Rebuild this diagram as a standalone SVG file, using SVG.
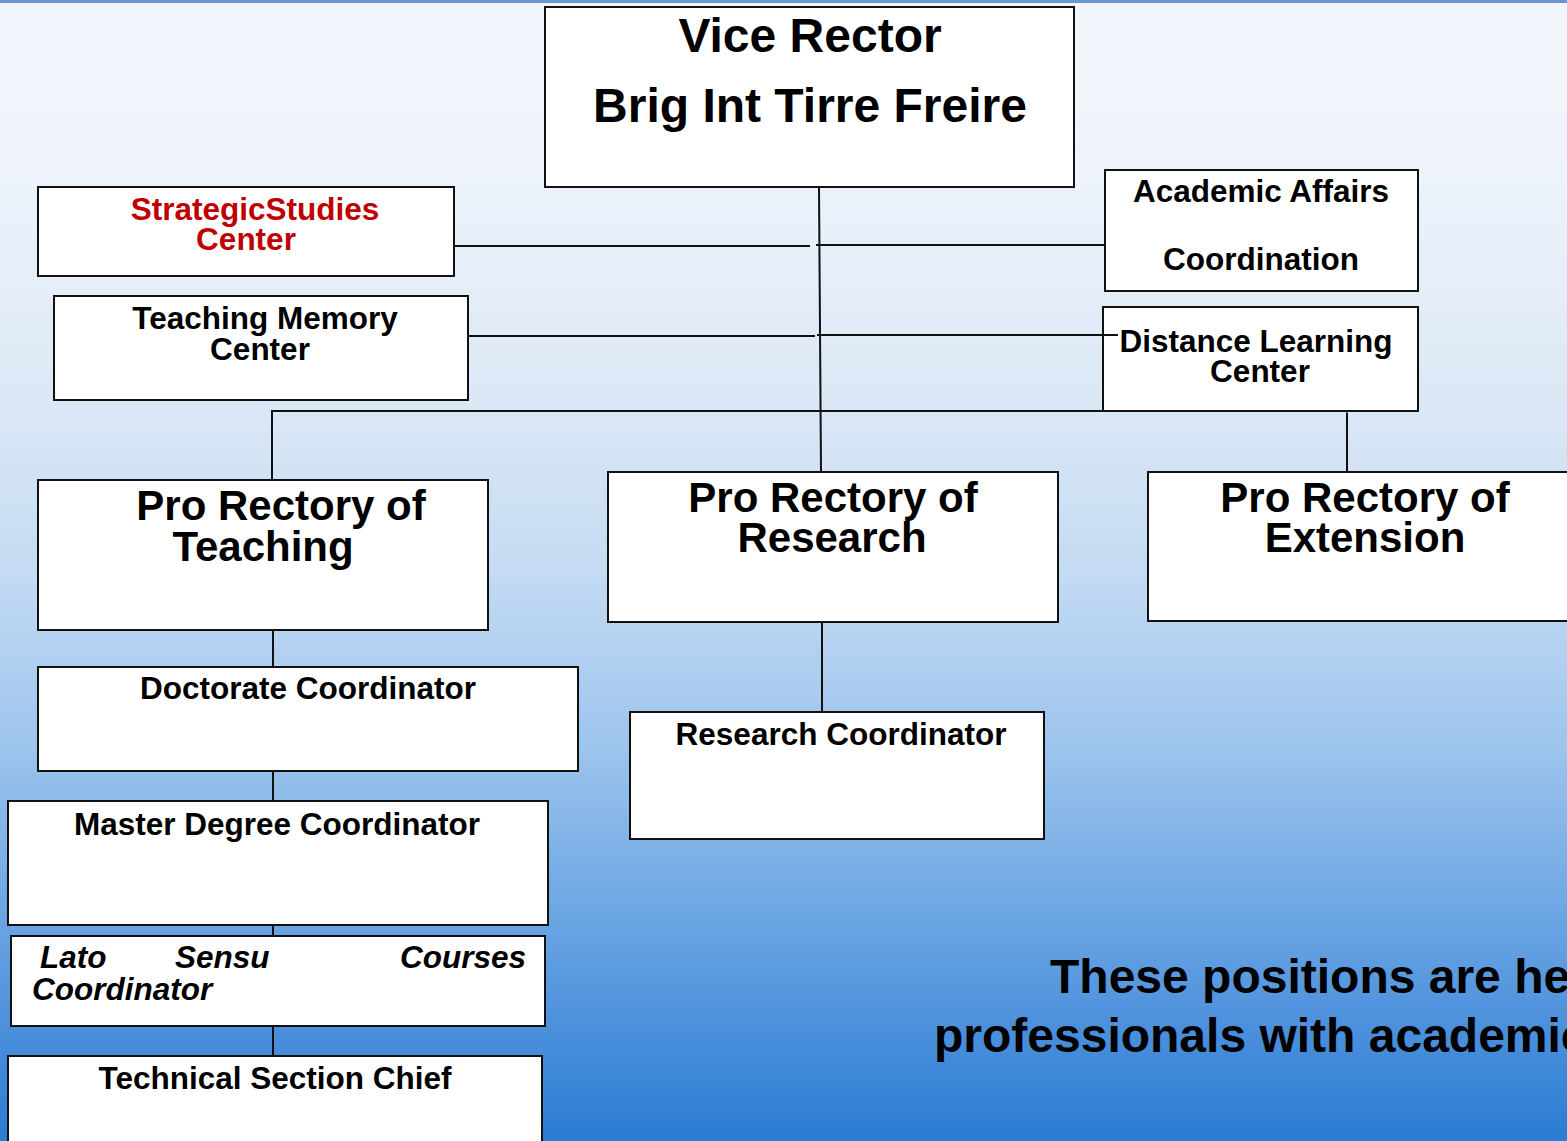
<svg xmlns="http://www.w3.org/2000/svg" width="1567" height="1141" viewBox="0 0 1567 1141">
<defs>
<linearGradient id="bg" x1="0" y1="0" x2="0" y2="1">
<stop offset="0" stop-color="#f2f6fc"/>
<stop offset="0.15" stop-color="#edf3fb"/>
<stop offset="0.35" stop-color="#dce8f6"/>
<stop offset="0.5" stop-color="#c4dbf3"/>
<stop offset="0.65" stop-color="#9ec5ed"/>
<stop offset="0.8" stop-color="#6ca6e3"/>
<stop offset="0.9" stop-color="#4c90dc"/>
<stop offset="1" stop-color="#2a7cd2"/>
</linearGradient>
<style>
.box{fill:#fff;stroke:#111;stroke-width:2}
.t{font-family:"Liberation Sans",Arial,sans-serif;font-weight:bold;fill:#000;text-anchor:middle}
.s{font-size:31.5px}
.l{font-size:42px}
.xl{font-size:48px}
.red{fill:#c00000}
.it{font-style:italic;text-anchor:start}
.c line,.c polyline{stroke:#111;stroke-width:2;fill:none}
</style>
</defs>
<rect x="0" y="0" width="1567" height="1141" fill="url(#bg)"/>
<rect x="0" y="0" width="1567" height="3" fill="#6a98cc"/>

<g id="vice-rector">
<rect class="box" x="545" y="7" width="529" height="180"/>
<text class="t xl" x="810" y="52">Vice Rector</text>
<text class="t xl" x="810" y="122">Brig Int Tirre Freire</text>
</g>

<g id="strategic">
<rect class="box" x="38" y="187" width="416" height="89"/>
<text class="t s red" x="255" y="220">StrategicStudies</text>
<text class="t s red" x="246" y="250">Center</text>
</g>

<g id="teaching-memory">
<rect class="box" x="54" y="296" width="414" height="104"/>
<text class="t s" x="265" y="329">Teaching Memory</text>
<text class="t s" x="260" y="360">Center</text>
</g>

<g id="academic-affairs">
<rect class="box" x="1105" y="170" width="313" height="121"/>
<text class="t s" x="1261" y="202">Academic Affairs</text>
<text class="t s" x="1261" y="270">Coordination</text>
</g>

<g id="distance">
<rect class="box" x="1103" y="307" width="315" height="104" stroke-width="3"/>
<text class="t s" x="1256" y="352">Distance Learning</text>
<text class="t s" x="1260" y="382">Center</text>
</g>

<g id="pro-teaching">
<rect class="box" x="38" y="480" width="450" height="150"/>
<text class="t l" x="281" y="520">Pro Rectory of</text>
<text class="t l" x="263" y="561">Teaching</text>
</g>

<g id="pro-research">
<rect class="box" x="608" y="472" width="450" height="150"/>
<text class="t l" x="833" y="512">Pro Rectory of</text>
<text class="t l" x="832" y="552">Research</text>
</g>

<g id="pro-extension">
<rect class="box" x="1148" y="472" width="430" height="149"/>
<text class="t l" x="1365" y="512">Pro Rectory of</text>
<text class="t l" x="1365" y="552">Extension</text>
</g>

<g id="doctorate">
<rect class="box" x="38" y="667" width="540" height="104"/>
<text class="t s" x="308" y="699">Doctorate Coordinator</text>
</g>

<g id="research-coord">
<rect class="box" x="630" y="712" width="414" height="127"/>
<text class="t s" x="841" y="745">Research Coordinator</text>
</g>

<g id="master">
<rect class="box" x="8" y="801" width="540" height="124"/>
<text class="t s" x="277" y="835">Master Degree Coordinator</text>
</g>

<g id="lato-sensu">
<rect class="box" x="11" y="936" width="534" height="90"/>
<text class="t s it" x="40" y="968">Lato</text>
<text class="t s it" x="175" y="968">Sensu</text>
<text class="t s it" x="526" y="968" style="text-anchor:end">Courses</text>
<text class="t s it" x="32" y="1000">Coordinator</text>
</g>

<g id="technical">
<rect class="box" x="8" y="1056" width="534" height="95"/>
<text class="t s" x="275" y="1089">Technical Section Chief</text>
</g>

<g id="note">
<text class="t xl" x="1050" y="993" style="text-anchor:start">These positions are he</text>
<text class="t xl" x="934" y="1052" style="text-anchor:start">professionals with academic</text>
</g>

<g class="c" id="connectors">
<line x1="819" y1="188" x2="821" y2="471"/>
<line x1="455" y1="246" x2="810" y2="246"/>
<line x1="816" y1="245" x2="1104" y2="245"/>
<line x1="469" y1="336" x2="815" y2="336"/>
<line x1="817" y1="335" x2="1118" y2="335"/>
<polyline points="272,479 272,411 1102,411"/>
<line x1="1347" y1="412.5" x2="1347" y2="471"/>
<line x1="273" y1="631" x2="273" y2="666"/>
<line x1="273" y1="772" x2="273" y2="800"/>
<line x1="273" y1="926" x2="273" y2="935"/>
<line x1="273" y1="1027" x2="273" y2="1055"/>
<line x1="822" y1="623" x2="822" y2="711"/>
</g>
</svg>
